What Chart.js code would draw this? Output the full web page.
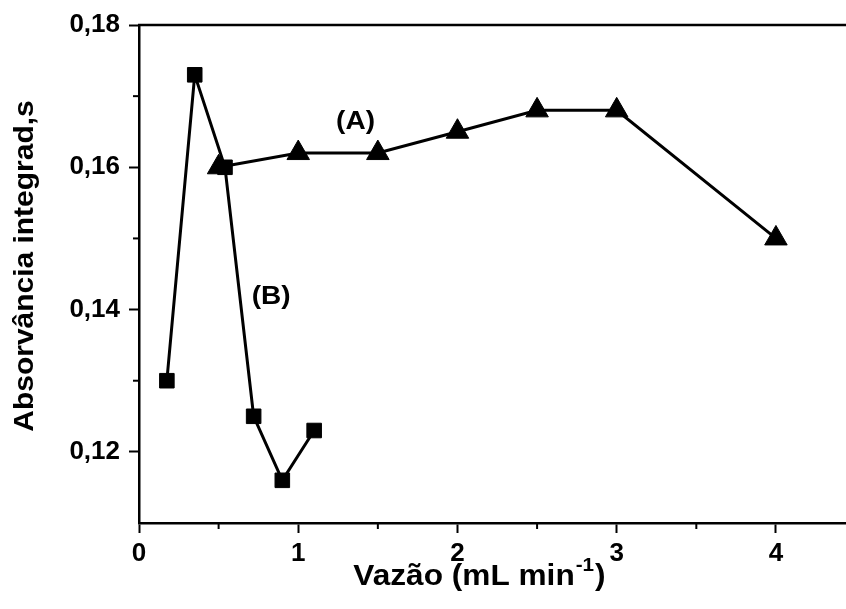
<!DOCTYPE html>
<html><head><meta charset="utf-8">
<script src="https://cdn.jsdelivr.net/npm/chart.js@4/dist/chart.umd.min.js"></script>
<style>html,body{margin:0;padding:0;background:#fff}#wrap{width:846px;height:609px;position:relative}</style>
</head><body><div id="wrap"><canvas id="c" width="846" height="609"></canvas></div>
<script>
// ---- data ----
const flowA = [0.5, 1, 1.5, 2, 2.5, 3, 4];
const absA  = [0.160, 0.162, 0.162, 0.165, 0.168, 0.168, 0.150];
const flowB = [0.175, 0.35, 0.54, 0.72, 0.9, 1.1];
const absB  = [0.130, 0.173, 0.160, 0.125, 0.116, 0.123];
const xTicks = [0, 1, 2, 3, 4];
const xMinorTicks = [0.5, 1.5, 2.5, 3.5];
const yTicks = [0.12, 0.14, 0.16, 0.18];
const yMinorTicks = [0.13, 0.15, 0.17];
const seriesLabels = ['(A)', '(B)'];
const seriesLabelX = [1.36, 0.83];
const seriesLabelY = [0.1663, 0.1418];
const xTitle = 'Vazão (mL min';
const xTitleSup = '-1';
const xTitleEnd = ')';
const yTitle = 'Absorvância integrad,s';

const FONT = '"Liberation Sans", Arial, sans-serif';

function stretchText(ctx, text, x, y, sx) {
  ctx.save(); ctx.translate(x, y); ctx.scale(sx, 1); ctx.fillText(text, 0, 0); ctx.restore();
}

const decor = {
  id: 'decor',
  afterDraw(chart) {
    const {ctx, chartArea: a, scales: {x, y}} = chart;
    ctx.save();
    ctx.strokeStyle = '#000';
    ctx.lineWidth = 2.5;
    ctx.beginPath(); ctx.moveTo(a.left - 1, a.top); ctx.lineTo(a.right, a.top); ctx.stroke();
    ctx.lineWidth = 2;
    xMinorTicks.forEach(v => { const p = x.getPixelForValue(v); ctx.beginPath(); ctx.moveTo(p, a.bottom); ctx.lineTo(p, a.bottom + 6); ctx.stroke(); });
    yMinorTicks.forEach(v => { const p = y.getPixelForValue(v); ctx.beginPath(); ctx.moveTo(a.left, p); ctx.lineTo(a.left - 6, p); ctx.stroke(); });
    // series labels
    ctx.fillStyle = '#000';
    ctx.font = 'bold 25px ' + FONT;
    ctx.textAlign = 'center'; ctx.textBaseline = 'middle';
    seriesLabels.forEach((t, i) => stretchText(ctx, t, x.getPixelForValue(seriesLabelX[i]), y.getPixelForValue(seriesLabelY[i]), 1.12));
    // x title with superscript
    const S = 1.09;
    const big = 'bold 29px ' + FONT, small = 'bold 19px ' + FONT;
    ctx.textAlign = 'left'; ctx.textBaseline = 'alphabetic';
    ctx.font = big; const w1 = ctx.measureText(xTitle).width * S; const w3 = ctx.measureText(xTitleEnd).width * S;
    ctx.font = small; const w2 = ctx.measureText(xTitleSup).width * S;
    const cx = (a.left + a.right) / 2 - 13;
    let sx = cx - (w1 + w2 + w3 + 2) / 2;
    const by = a.bottom + 62;
    ctx.font = big; stretchText(ctx, xTitle, sx, by, S); sx += w1 + 1;
    ctx.font = small; stretchText(ctx, xTitleSup, sx, by - 14, S); sx += w2 + 1;
    ctx.font = big; stretchText(ctx, xTitleEnd, sx, by, S);
    // y title
    ctx.translate(33, (a.top + a.bottom) / 2 - 8);
    ctx.rotate(-Math.PI / 2);
    ctx.textAlign = 'center';
    ctx.font = 'bold 28px ' + FONT;
    stretchText(ctx, yTitle, 0, 0, 1.07);
    ctx.restore();
  }
};

new Chart(document.getElementById('c'), {
  type: 'scatter',
  data: {
    datasets: [
      {
        label: 'A',
        data: flowA.map((v, i) => ({x: v, y: absA[i]})),
        showLine: true, borderColor: '#000', borderWidth: 3,
        pointStyle: 'triangle', pointRadius: 13, pointHoverRadius: 13,
        pointBackgroundColor: '#000', pointBorderColor: '#000', pointBorderWidth: 1,
        order: 2
      },
      {
        label: 'B',
        data: flowB.map((v, i) => ({x: v, y: absB[i]})),
        showLine: true, borderColor: '#000', borderWidth: 3,
        pointStyle: 'rect', pointRadius: 10.3, pointHoverRadius: 10.3,
        pointBackgroundColor: '#000', pointBorderColor: '#000', pointBorderWidth: 1,
        order: 1
      }
    ]
  },
  options: {
    responsive: false,
    animation: false,
    devicePixelRatio: 1,
    layout: {autoPadding: false, padding: {top: 25, right: 0, left: 0, bottom: 0}},
    plugins: {legend: {display: false}, tooltip: {enabled: false}},
    scales: {
      x: {
        type: 'linear', min: 0, max: 4.44,
        afterBuildTicks: s => { s.ticks = xTicks.map(v => ({value: v})); },
        afterFit: s => { s.height = 86; s.paddingRight = 0; s.paddingLeft = 0; },
        border: {display: true, color: '#000', width: 2.5},
        grid: {drawOnChartArea: false, drawTicks: true, tickLength: 10, tickWidth: 2, tickColor: '#000'},
        ticks: {color: '#000', font: {family: FONT, size: 26, weight: 'bold'}, padding: 5, maxRotation: 0,
          callback: v => String(v)}
      },
      y: {
        type: 'linear', min: 0.11, max: 0.18,
        afterBuildTicks: s => { s.ticks = yTicks.map(v => ({value: v})); },
        afterFit: s => { s.width = 139; s.paddingTop = 0; s.paddingBottom = 0; },
        border: {display: true, color: '#000', width: 2.5},
        grid: {drawOnChartArea: false, drawTicks: true, tickLength: 10, tickWidth: 2, tickColor: '#000'},
        ticks: {color: '#000', font: {family: FONT, size: 26, weight: 'bold'}, padding: 9,
          callback: v => v.toFixed(2).replace('.', ',')}
      }
    }
  },
  plugins: [decor]
});
</script>
</body></html>
